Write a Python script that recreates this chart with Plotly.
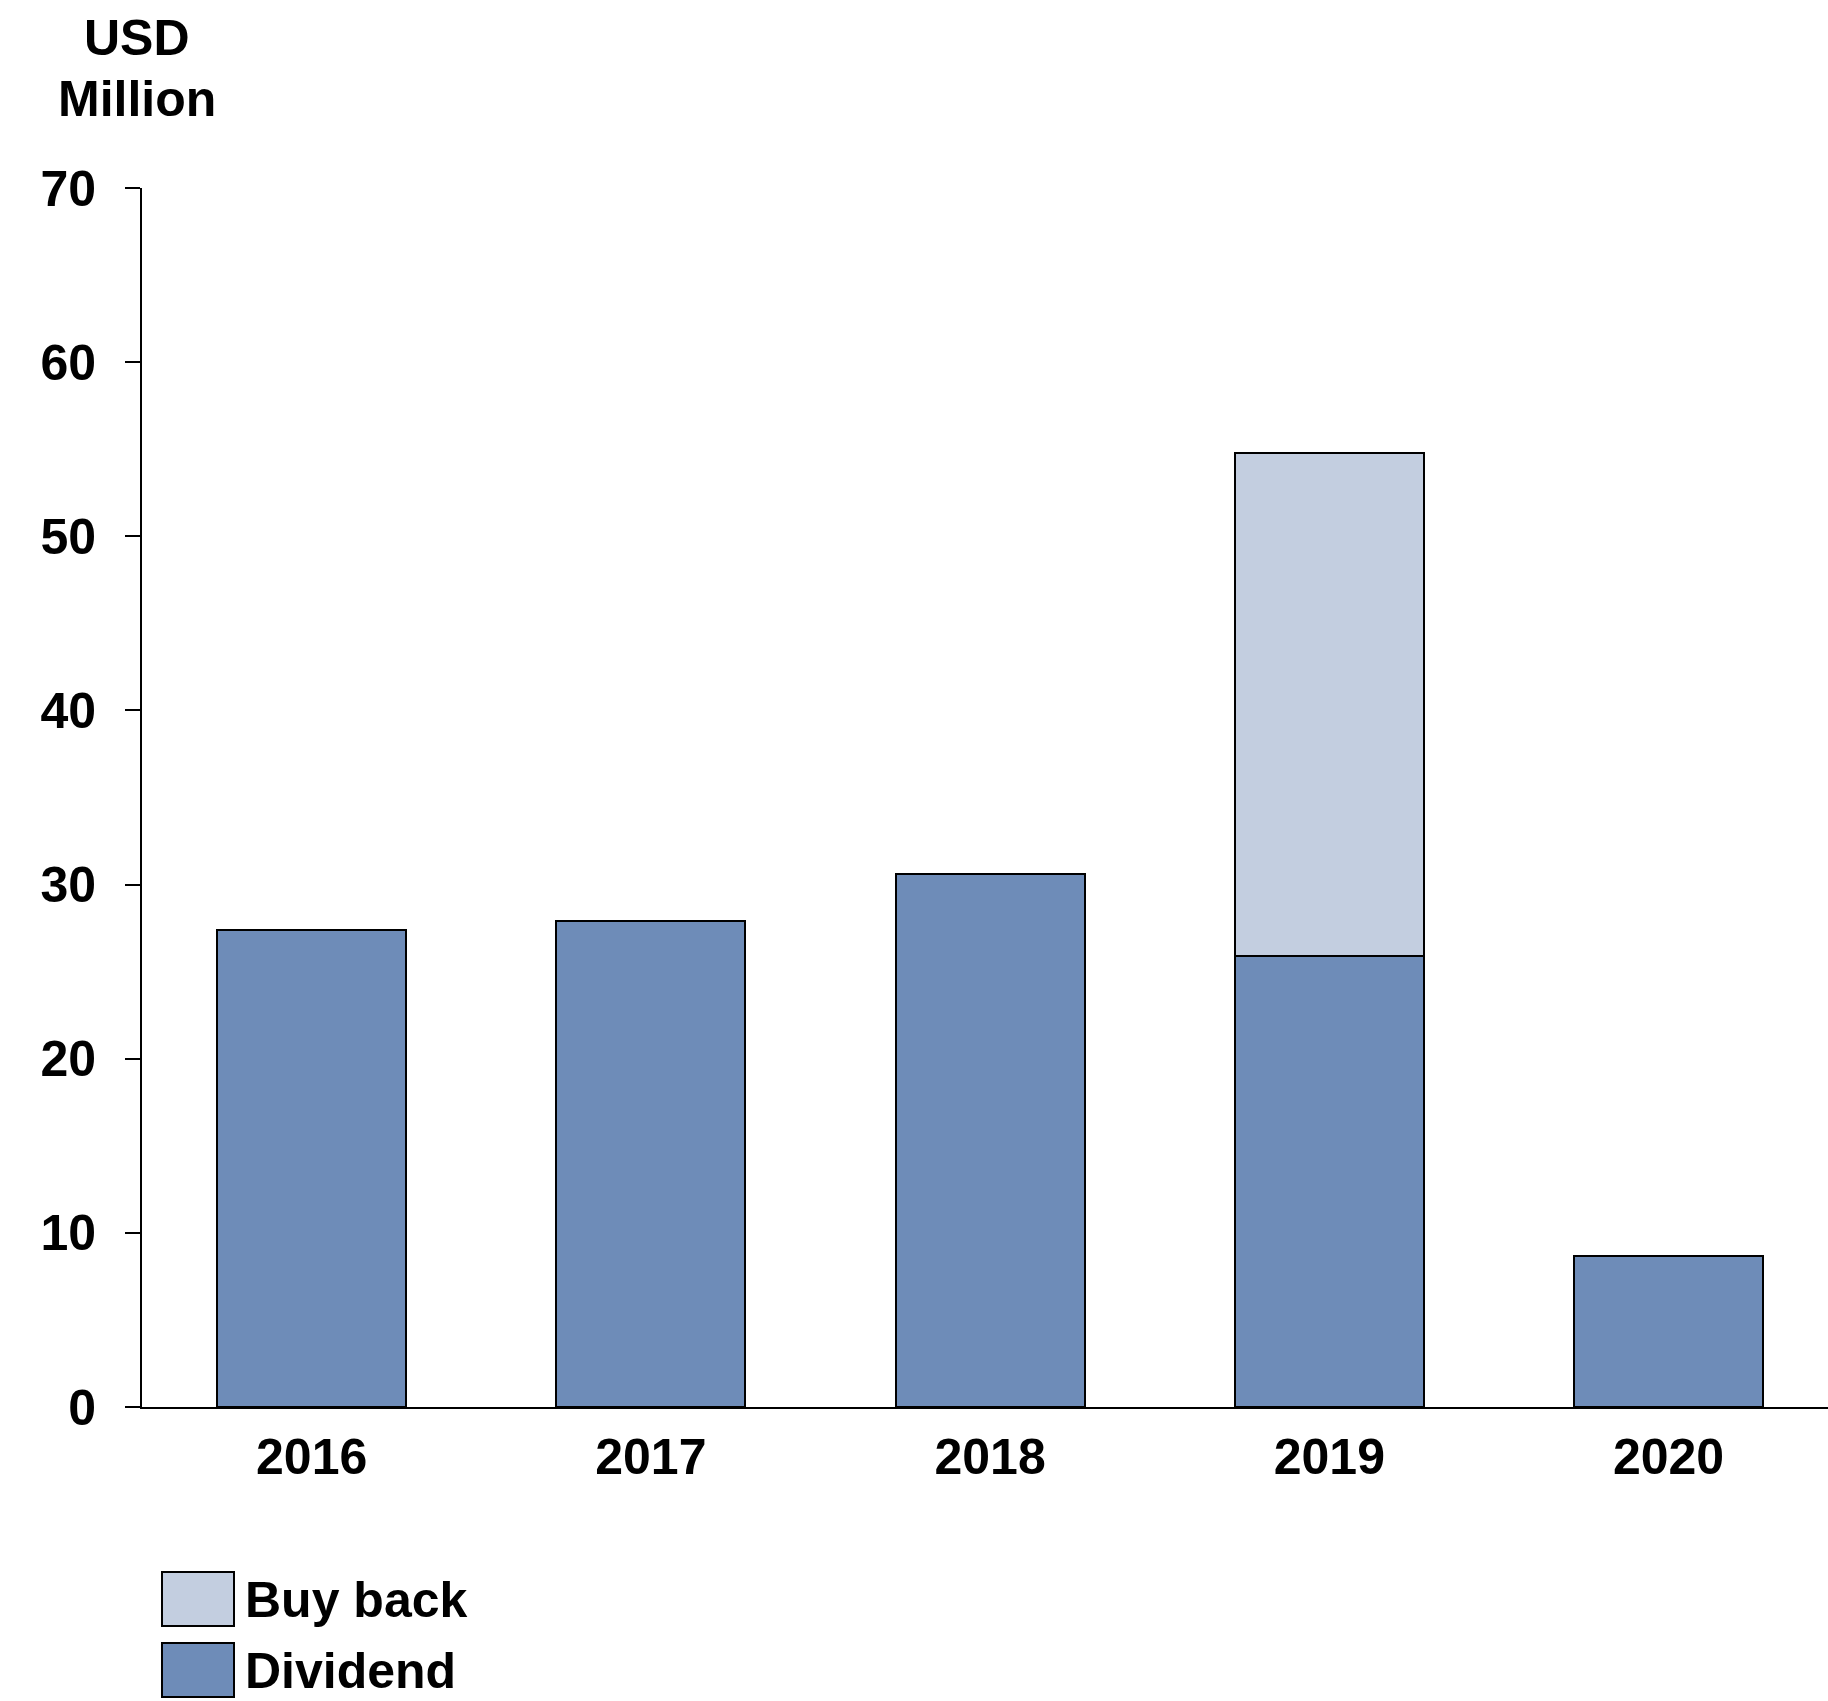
import plotly.graph_objects as go

# Shareholder returns by year (USD million)
years = ["2016", "2017", "2018", "2019", "2020"]
dividend = [27.4, 27.9, 30.6, 25.9, 8.7]
buy_back = [0, 0, 0, 28.9, 0]
y_ticks = [0, 10, 20, 30, 40, 50, 60, 70]

DIV_COLOR = "#6E8CB8"
BUY_COLOR = "#C3CEE0"
FONT = "Liberation Sans, Arial, sans-serif"
FS = 50

W, H = 1828, 1701
L, R, T, B = 142, 0, 188, 294
plot_w = W - L - R
plot_h = H - T - B


def px_x(x):
    return (x - L) / plot_w


def px_y(y):
    return (H - B - y) / plot_h


fig = go.Figure()
fig.add_bar(x=years, y=dividend, name="Dividend", marker_color=DIV_COLOR,
            marker_line=dict(color="black", width=2), width=0.557)
fig.add_bar(x=years, y=buy_back, name="Buy back", marker_color=BUY_COLOR,
            marker_line=dict(color="black", width=2), width=0.557)

fig.update_layout(
    width=W, height=H, barmode="stack", showlegend=False,
    margin=dict(l=L, r=R, t=T, b=B, pad=0),
    paper_bgcolor="white", plot_bgcolor="white",
    font=dict(family=FONT, size=FS, color="black"),
    xaxis=dict(range=[-0.5, 4.47], showline=True, linecolor="black", linewidth=2,
               ticks="", showgrid=False, zeroline=False, ticklabelstandoff=5,
               tickfont=dict(family=FONT, size=FS, color="black", weight="bold")),
    yaxis=dict(range=[0, 70], tickvals=y_ticks, showline=True, linecolor="black",
               linewidth=2, ticks="outside", ticklen=15, tickwidth=2, tickcolor="black",
               showgrid=False, zeroline=False, ticklabelstandoff=19,
               tickfont=dict(family=FONT, size=FS, color="black", weight="bold")),
)

# Unit label above the value axis
for text, yc in [("USD", 38), ("Million", 99)]:
    fig.add_annotation(text=f"<b>{text}</b>", xref="paper", yref="paper",
                       x=px_x(137), y=px_y(yc), xanchor="center", yanchor="middle",
                       showarrow=False, font=dict(family=FONT, size=FS, color="black"))

# Legend drawn as swatches with labels
legend_items = [("Buy back", BUY_COLOR, 1572), ("Dividend", DIV_COLOR, 1643)]
for name, color, top in legend_items:
    fig.add_shape(type="rect", xref="paper", yref="paper",
                  x0=px_x(162), x1=px_x(234), y0=px_y(top), y1=px_y(top + 54),
                  fillcolor=color, line=dict(color="black", width=2))
    fig.add_annotation(text=f"<b>{name}</b>", xref="paper", yref="paper",
                       x=px_x(243), y=px_y(top + 28), xanchor="left", yanchor="middle",
                       showarrow=False, font=dict(family=FONT, size=FS, color="black"))

fig.write_html("out.html")
